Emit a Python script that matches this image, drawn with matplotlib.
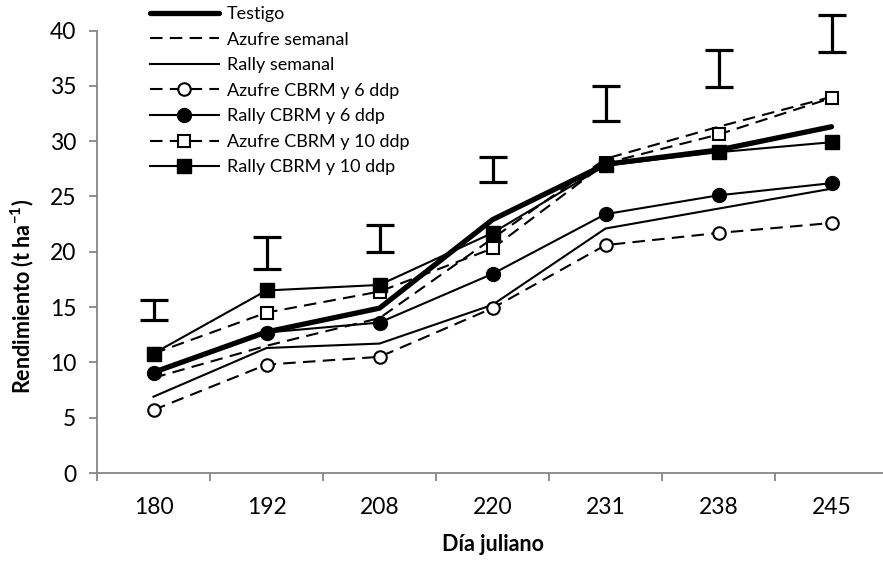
import matplotlib
matplotlib.use('Agg')
import matplotlib.pyplot as plt
import numpy as np

plt.rcParams['font.family'] = ['Lato', 'DejaVu Sans']

# Rendimiento (t/ha) por día juliano
dias = ['180', '192', '208', '220', '231', '238', '245']
testigo = [9.1, 12.75, 14.9, 22.9, 27.9, 29.2, 31.3]
azufre_semanal = [8.6, 11.5, 14.0, 21.2, 28.4, 31.3, 34.0]
rally_semanal = [6.9, 11.3, 11.7, 15.2, 22.1, 23.9, 25.7]
azufre_6 = [5.7, 9.8, 10.5, 14.9, 20.6, 21.7, 22.6]
rally_6 = [9.0, 12.7, 13.6, 18.0, 23.4, 25.1, 26.2]
azufre_10 = [10.8, 14.5, 16.4, 20.3, 28.0, 30.6, 33.9]
rally_10 = [10.8, 16.5, 17.0, 21.7, 27.8, 29.0, 29.9]

# barras DMS (extremo superior e inferior)
dms_sup = [15.6, 21.3, 22.4, 28.6, 35.0, 38.2, 41.4]
dms_inf = [13.8, 18.4, 20.0, 26.3, 31.8, 34.9, 38.1]

fig = plt.figure(figsize=(8.83, 5.62), dpi=100)
ax = fig.add_axes([97 / 883, 89 / 562, 791 / 883, 442.5 / 562])

x = np.arange(len(dias))
dash = (0, (6, 3.5))
lw = 1.5

ax.plot(x, testigo, color='black', lw=3.8, solid_capstyle='round', label='Testigo')
ax.plot(x, azufre_semanal, color='black', lw=lw, linestyle=dash, label='Azufre semanal')
ax.plot(x, rally_semanal, color='black', lw=lw, label='Rally semanal')
ax.plot(x, azufre_6, color='black', lw=lw, linestyle=dash, marker='o', ms=9,
        mfc='white', mec='black', mew=1.5, label='Azufre CBRM y 6 ddp')
ax.plot(x, rally_6, color='black', lw=lw, marker='o', ms=10,
        mfc='black', mec='black', label='Rally CBRM y 6 ddp')
ax.plot(x, azufre_10, color='black', lw=lw, linestyle=dash, marker='s', ms=9,
        mfc='white', mec='black', mew=1.5, label='Azufre CBRM y 10 ddp')
ax.plot(x, rally_10, color='black', lw=lw, marker='s', ms=9.5,
        mfc='black', mec='black', label='Rally CBRM y 10 ddp')

centro = (np.array(dms_sup) + np.array(dms_inf)) / 2
mitad = (np.array(dms_sup) - np.array(dms_inf)) / 2
eb = ax.errorbar(x, centro, yerr=mitad, fmt='none', ecolor='black',
                 elinewidth=2.3, capsize=10, capthick=2.3)
for artist in eb.lines[1] + eb.lines[2]:
    artist.set_clip_on(False)

ax.set_xlim(-0.5, 6.5)
ax.set_ylim(0, 40)
ax.set_yticks(range(0, 41, 5))
ax.set_xticks(x)
ax.set_xticklabels(dias)
ax.set_xticks(np.arange(-0.5, 6.6, 1), minor=True)

for side in ['top', 'right']:
    ax.spines[side].set_visible(False)
for side in ['left', 'bottom']:
    ax.spines[side].set_color('#868686')
    ax.spines[side].set_linewidth(1.3)

ax.tick_params(axis='y', direction='out', length=6, width=1.3, color='#868686',
               labelsize=16.5, pad=9)
ax.tick_params(axis='x', which='major', length=0, labelsize=16.5, pad=17.5)
ax.tick_params(axis='x', which='minor', direction='out', length=6, width=1.3,
               color='#868686')

ax.set_ylabel('Rendimiento (t ha$^{\\mathregular{-1}}$)', fontsize=15.5,
              fontweight='bold')
ax.yaxis.set_label_coords(-0.077, 0.398)
ax.set_xlabel('Día juliano', fontsize=15.5, fontweight='bold', labelpad=11)

ax.legend(loc='upper left', bbox_to_anchor=(150 / 883, 1 - 6 / 562),
          bbox_transform=fig.transFigure, frameon=False, fontsize=13,
          handlelength=3.8, handletextpad=0.45, labelspacing=0.53,
          borderpad=0.0, borderaxespad=0.0, numpoints=1)

fig.savefig('out.png', dpi=100)
